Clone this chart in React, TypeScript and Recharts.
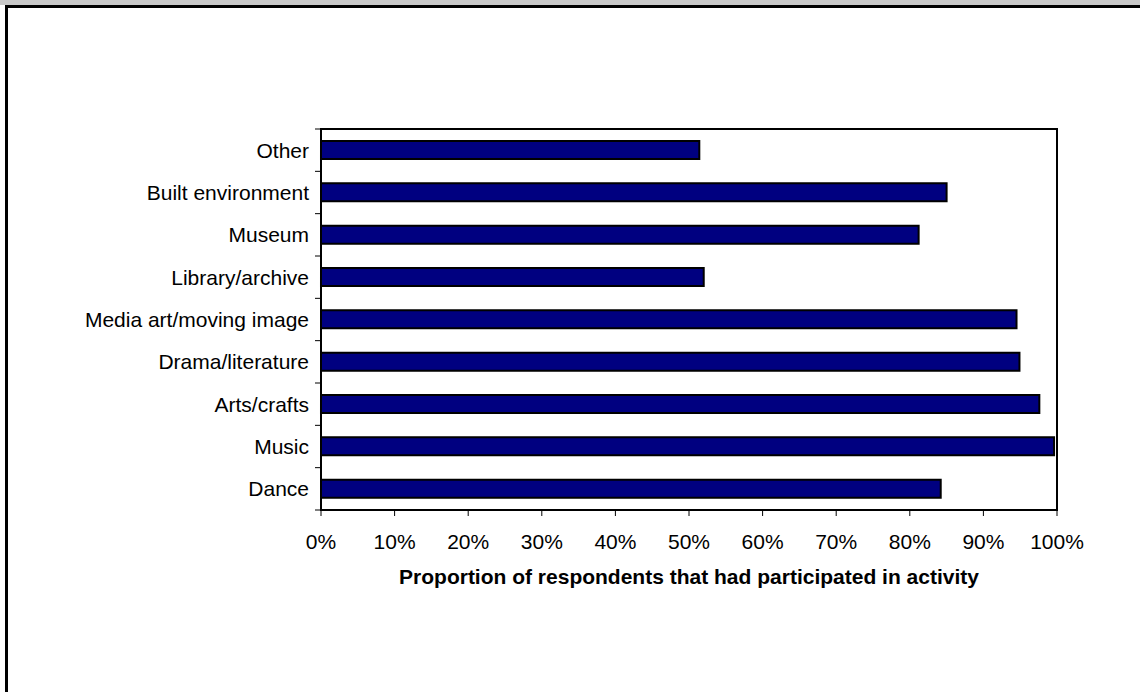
import React from "react";
import { BarChart, Bar, XAxis, YAxis, ReferenceArea } from "recharts";

// activities, top row first
const categories = [
  "Other",
  "Built environment",
  "Museum",
  "Library/archive",
  "Media art/moving image",
  "Drama/literature",
  "Arts/crafts",
  "Music",
  "Dance",
];

// share of respondents who took part in each activity
const proportions = [0.514, 0.85, 0.812, 0.52, 0.945, 0.949, 0.976, 0.996, 0.842];

const xTicks = [0, 0.1, 0.2, 0.3, 0.4, 0.5, 0.6, 0.7, 0.8, 0.9, 1];

const data = categories.map((name, i) => ({ name, value: proportions[i] }));

const FONT = "'Liberation Sans', Arial, sans-serif";
const FONT_SIZE = 21;
const TITLE_SIZE = 21;
const LABEL_GAP = 12;
const CHART_W = 1140;
const CHART_H = 692;
const MARGIN = { top: 129, right: 83, bottom: 102, left: 0 };
const X_AXIS_H = 80;
const PLOT_H = CHART_H - MARGIN.top - MARGIN.bottom - X_AXIS_H;

// category label plus the small tick marks between categories
function CategoryTick(props: any) {
  const { x, y, payload, index, visibleTicksCount } = props;
  const count = visibleTicksCount || categories.length;
  const band = (props.height || PLOT_H) / count;
  const axisX = x + LABEL_GAP;
  return (
    <g>
      <text
        x={x}
        y={y}
        dy="0.355em"
        textAnchor="end"
        fontSize={FONT_SIZE}
        fill="#000"
        fontFamily={FONT}
      >
        {payload.value}
      </text>
      <line x1={axisX - 6} x2={axisX} y1={y - band / 2} y2={y - band / 2} stroke="#000" strokeWidth={1} />
      {index === count - 1 && (
        <line x1={axisX - 6} x2={axisX} y1={y + band / 2} y2={y + band / 2} stroke="#000" strokeWidth={1} />
      )}
    </g>
  );
}

export default function App() {
  return (
    <div
      style={{
        position: "absolute",
        left: 0,
        top: 0,
        width: CHART_W,
        height: CHART_H,
        overflow: "hidden",
        background: "#fff",
        fontFamily: FONT,
      }}
    >
      <div style={{ position: "absolute", left: 0, top: 0, width: CHART_W, height: 5, background: "#c8c8c8" }} />
      <div
        style={{
          position: "absolute",
          left: 5,
          top: 5,
          width: 1300,
          height: 900,
          border: "3px solid #000",
        }}
      />
      <div style={{ position: "absolute", left: 0, top: 0 }}>
        <BarChart width={CHART_W} height={CHART_H} data={data} layout="vertical" margin={MARGIN}>
          <XAxis
            type="number"
            domain={[0, 1]}
            ticks={xTicks}
            interval={0}
            height={X_AXIS_H}
            tickFormatter={(v: number) => `${Math.round(v * 100)}%`}
            tick={{ fontSize: FONT_SIZE, fill: "#000", fontFamily: FONT }}
            tickSize={6}
            tickMargin={18}
            tickLine={{ stroke: "#000" }}
            axisLine={{ stroke: "#000", strokeWidth: 2 }}
            label={{
              value: "Proportion of respondents that had participated in activity",
              position: "insideBottom",
              offset: 6,
              fontSize: TITLE_SIZE,
              fontWeight: "bold",
              fill: "#000",
              fontFamily: FONT,
            }}
          />
          <YAxis
            type="category"
            dataKey="name"
            width={321}
            interval={0}
            tickSize={0}
            tickMargin={LABEL_GAP}
            tickLine={false}
            axisLine={false}
            tick={<CategoryTick />}
          />
          <Bar
            dataKey="value"
            fill="#000080"
            stroke="#000"
            strokeWidth={2}
            barSize={18}
            isAnimationActive={false}
          />
          <ReferenceArea
            x1={0}
            x2={1}
            y1="Other"
            y2="Dance"
            fill="none"
            stroke="#000"
            strokeWidth={2}
            ifOverflow="visible"
          />
        </BarChart>
      </div>
    </div>
  );
}
